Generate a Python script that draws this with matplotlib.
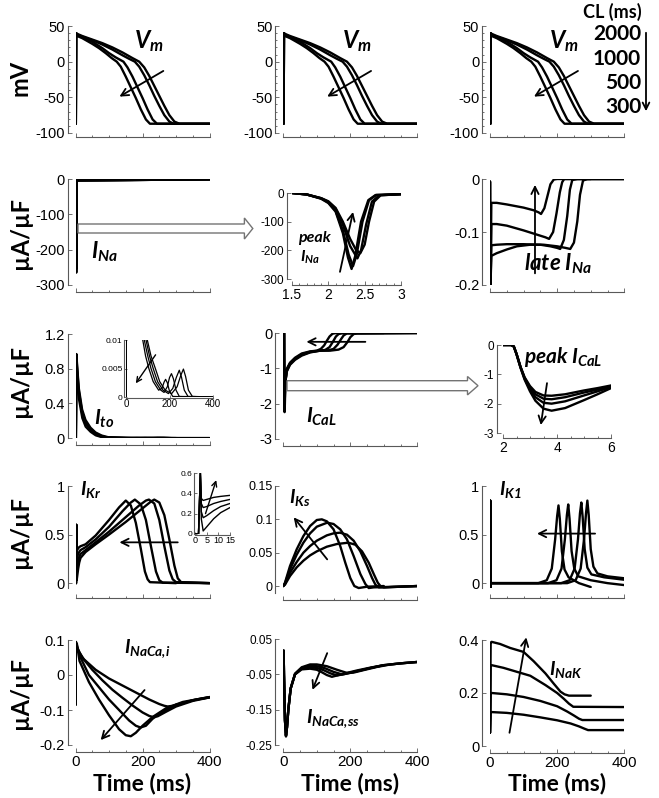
import matplotlib
matplotlib.use("Agg")
import matplotlib.pyplot as plt
from matplotlib import font_manager as fm
from matplotlib.patches import Polygon, FancyArrowPatch
from matplotlib.ticker import MultipleLocator

# ======================= DATA =======================
cycle_lengths = [2000, 1000, 500, 300]

# --- membrane potential (mV) ---
vm_t_2000 = [0, 1, 2, 5, 20, 50, 80, 110, 140, 170, 190, 205, 220, 235, 250, 265, 280, 295, 310, 400]
vm_v_2000 = [-87, -87, 40, 39, 36, 31, 26, 20, 13, 5, 0, -8, -20, -34, -48, -62, -75, -84, -87, -87]
vm_t_1000 = [0, 1, 2, 5, 20, 50, 80, 110, 140, 160, 177, 190, 205, 220, 235, 250, 265, 280, 292, 400]
vm_v_1000 = [-87, -87, 40, 38, 35, 30, 24, 17, 9, 4, 0, -7, -19, -33, -48, -62, -75, -84, -87, -87]
vm_t_500 = [0, 1, 2, 5, 20, 50, 80, 100, 120, 143, 155, 170, 185, 200, 215, 230, 243, 400]
vm_v_500 = [-87, -87, 40, 37, 34, 28, 19, 12, 6, 0, -8, -21, -36, -51, -67, -81, -87, -87]
vm_t_300 = [0, 1, 2, 5, 20, 50, 70, 90, 108, 123, 135, 150, 165, 180, 195, 210, 222, 300]
vm_v_300 = [-87, -87, 39, 36, 33, 25, 19, 12, 5, 0, -7, -21, -36, -51, -67, -81, -87, -87]

# --- fast sodium current INa ---
ina_t_2000 = [0, 1.5, 1.7, 1.9, 2.0, 2.1, 2.2, 2.27, 2.32, 2.37, 2.45, 2.55, 2.65, 3.0, 400]
ina_v_2000 = [0, 0, -5, -20, -35, -65, -140, -225, -265, -220, -100, -25, -7, -4, -1]
ina_t_1000 = [0, 1.5, 1.7, 1.9, 2.0, 2.1, 2.2, 2.28, 2.34, 2.39, 2.47, 2.56, 2.66, 3.0, 400]
ina_v_1000 = [0, 0, -5, -19, -33, -62, -130, -215, -255, -215, -100, -25, -7, -4, -1]
ina_t_500 = [0, 1.5, 1.7, 1.9, 2.0, 2.1, 2.2, 2.3, 2.4, 2.45, 2.52, 2.6, 2.7, 3.0, 400]
ina_v_500 = [0, 0, -5, -18, -30, -55, -110, -185, -228, -200, -110, -30, -8, -4, -1]
ina_t_300 = [0, 1.5, 1.7, 1.9, 2.0, 2.1, 2.2, 2.3, 2.38, 2.44, 2.5, 2.56, 2.63, 2.72, 3.0, 400]
ina_v_300 = [0, 0, -5, -18, -29, -52, -100, -160, -198, -210, -180, -100, -30, -8, -4, -1]

# --- late sodium current ---
inal_t_2000 = [0, 0.5, 1.5, 4, 20, 50, 80, 120, 160, 200, 225, 239, 250, 260, 268, 277, 290, 400]
inal_v_2000 = [-0.005, -0.25, -0.2, -0.145, -0.14, -0.133, -0.127, -0.124, -0.124, -0.127, -0.13, -0.132, -0.12, -0.08, -0.03, -0.003, 0, 0]
inal_t_1000 = [0, 0.5, 1.5, 4, 20, 50, 100, 150, 180, 200, 209, 220, 230, 238, 245, 260, 400]
inal_v_1000 = [-0.005, -0.25, -0.2, -0.125, -0.124, -0.123, -0.123, -0.124, -0.127, -0.13, -0.132, -0.115, -0.07, -0.02, -0.002, 0, 0]
inal_t_500 = [0, 0.5, 1.5, 4, 20, 50, 100, 140, 165, 176, 188, 198, 208, 215, 221, 235, 400]
inal_v_500 = [-0.005, -0.25, -0.2, -0.085, -0.085, -0.088, -0.097, -0.105, -0.11, -0.113, -0.1, -0.065, -0.025, -0.006, 0, 0, 0]
inal_t_300 = [0, 0.5, 1.5, 4, 20, 50, 100, 130, 145, 152, 162, 172, 180, 190, 200, 300]
inal_v_300 = [-0.005, -0.25, -0.2, -0.045, -0.045, -0.048, -0.054, -0.059, -0.063, -0.066, -0.055, -0.03, -0.01, -0.001, 0, 0]

# --- transient outward current Ito ---
ito_t_2000 = [0, 1.5, 3, 5, 10, 20, 30, 45, 60, 78, 98, 115, 135, 155, 180, 210, 235, 252, 264, 274, 287, 305, 400]
ito_v_2000 = [0, 0, 0.97, 0.85, 0.58, 0.33, 0.21, 0.12, 0.065, 0.03, 0.01, 0.0072, 0.005, 0.0027, 0.0012, 0.0006, 0.0018, 0.0038, 0.0049, 0.0036, 0.0012, 0.0001, 0]
ito_t_1000 = [0, 1.5, 3, 5, 10, 20, 30, 45, 60, 72, 92, 108, 125, 145, 170, 195, 215, 232, 245, 255, 268, 285, 400]
ito_v_1000 = [0, 0, 0.95, 0.82, 0.55, 0.3, 0.19, 0.105, 0.055, 0.03, 0.01, 0.0072, 0.005, 0.0027, 0.0012, 0.0006, 0.0015, 0.0035, 0.0047, 0.0035, 0.0012, 0.0001, 0]
ito_t_500 = [0, 1.5, 3, 5, 10, 20, 30, 45, 55, 65, 84, 100, 115, 135, 160, 175, 190, 200, 209, 218, 230, 245, 400]
ito_v_500 = [0, 0, 0.92, 0.78, 0.5, 0.27, 0.16, 0.09, 0.055, 0.03, 0.01, 0.0072, 0.005, 0.0027, 0.0012, 0.0008, 0.0018, 0.0034, 0.0041, 0.0032, 0.0012, 0.0001, 0]
ito_t_300 = [0, 1.5, 3, 5, 10, 20, 30, 45, 60, 77, 90, 105, 125, 150, 165, 175, 182, 190, 200, 215, 300]
ito_v_300 = [0, 0, 0.88, 0.72, 0.45, 0.23, 0.13, 0.07, 0.03, 0.01, 0.0072, 0.005, 0.0027, 0.0012, 0.0015, 0.0026, 0.0031, 0.0025, 0.001, 0.0001, 0]

# --- L-type calcium current ICaL ---
ical_t_2000 = [0, 2, 2.3, 2.4, 2.5, 2.65, 2.8, 3.0, 3.2, 3.5, 3.8, 4.3, 5.0, 5.5, 6.0, 10, 20, 35, 55, 80, 110, 140, 165, 180, 192, 200, 210, 220, 400]
ical_v_2000 = [0, 0, 0, -0.05, -0.3, -0.75, -1.1, -1.4, -1.6, -1.72, -1.73, -1.68, -1.55, -1.47, -1.38, -1.1, -0.9, -0.76, -0.64, -0.55, -0.5, -0.5, -0.47, -0.4, -0.25, -0.12, -0.03, -0.01, 0]
ical_t_1000 = [0, 2, 2.3, 2.4, 2.5, 2.65, 2.8, 3.0, 3.2, 3.5, 3.8, 4.3, 5.0, 5.5, 6.0, 10, 20, 35, 55, 80, 110, 135, 150, 162, 172, 180, 190, 400]
ical_v_1000 = [0, 0, 0, -0.05, -0.3, -0.75, -1.12, -1.45, -1.68, -1.83, -1.85, -1.78, -1.62, -1.52, -1.4, -1.08, -0.88, -0.74, -0.62, -0.54, -0.5, -0.49, -0.45, -0.33, -0.18, -0.07, -0.01, 0]
ical_t_500 = [0, 2, 2.3, 2.4, 2.5, 2.65, 2.8, 3.0, 3.2, 3.5, 3.8, 4.3, 5.0, 5.5, 6.0, 10, 20, 35, 55, 80, 105, 125, 138, 148, 157, 165, 175, 400]
ical_v_500 = [0, 0, 0, -0.05, -0.3, -0.76, -1.15, -1.5, -1.78, -1.97, -2.0, -1.92, -1.72, -1.58, -1.43, -1.05, -0.86, -0.72, -0.6, -0.53, -0.5, -0.48, -0.4, -0.25, -0.1, -0.03, -0.005, 0]
ical_t_300 = [0, 2, 2.3, 2.4, 2.5, 2.65, 2.8, 3.0, 3.2, 3.5, 3.8, 4.3, 5.0, 5.5, 6.0, 10, 20, 35, 55, 80, 100, 112, 122, 130, 138, 147, 155, 300]
ical_v_300 = [0, 0, 0, -0.05, -0.32, -0.78, -1.18, -1.58, -1.9, -2.17, -2.24, -2.15, -1.88, -1.68, -1.47, -1.02, -0.84, -0.7, -0.58, -0.52, -0.5, -0.45, -0.35, -0.22, -0.1, -0.02, -0.005, 0]

# --- rapid delayed rectifier IKr ---
ikr_t_2000 = [0, 1.5, 2.3, 2.7, 3.5, 5, 8, 11, 15, 30, 60, 100, 150, 200, 225, 235, 250, 265, 280, 295, 305, 315, 400]
ikr_v_2000 = [0, 0, 0.6, 0.15, 0.03, 0.07, 0.15, 0.21, 0.26, 0.32, 0.4, 0.5, 0.63, 0.77, 0.84, 0.86, 0.83, 0.7, 0.45, 0.18, 0.05, 0.01, 0]
ikr_t_1000 = [0, 1.5, 2.3, 2.7, 3.5, 5, 8, 11, 15, 30, 60, 100, 150, 190, 210, 219, 235, 250, 265, 280, 290, 300, 400]
ikr_v_1000 = [0, 0, 0.6, 0.22, 0.16, 0.18, 0.23, 0.27, 0.3, 0.34, 0.42, 0.53, 0.68, 0.8, 0.85, 0.86, 0.82, 0.65, 0.38, 0.13, 0.04, 0.01, 0]
ikr_t_500 = [0, 1.5, 2.3, 2.7, 3.5, 5, 8, 11, 15, 30, 60, 100, 140, 165, 177, 195, 210, 225, 240, 250, 260, 400]
ikr_v_500 = [0, 0, 0.6, 0.3, 0.26, 0.27, 0.3, 0.32, 0.34, 0.37, 0.45, 0.58, 0.74, 0.83, 0.86, 0.81, 0.65, 0.38, 0.12, 0.03, 0.005, 0]
ikr_t_300 = [0, 1.5, 2.3, 2.7, 3.5, 5, 8, 11, 15, 30, 60, 100, 130, 150, 165, 180, 195, 207, 215, 222, 300]
ikr_v_300 = [0, 0, 0.6, 0.35, 0.33, 0.34, 0.36, 0.37, 0.38, 0.4, 0.49, 0.65, 0.78, 0.85, 0.8, 0.62, 0.35, 0.12, 0.04, 0.01, 0]

# --- slow delayed rectifier IKs ---
iks_t_2000 = [0, 5, 20, 40, 60, 80, 100, 130, 160, 194, 215, 235, 255, 270, 282, 290, 300, 400]
iks_v_2000 = [0, 0.002, 0.015, 0.028, 0.038, 0.046, 0.052, 0.059, 0.063, 0.065, 0.062, 0.052, 0.035, 0.018, 0.005, 0, -0.002, 0]
iks_t_1000 = [0, 5, 20, 40, 60, 80, 100, 130, 150, 169, 190, 210, 230, 250, 265, 275, 285, 300, 400]
iks_v_1000 = [0, 0.003, 0.02, 0.036, 0.05, 0.06, 0.068, 0.076, 0.079, 0.08, 0.077, 0.068, 0.052, 0.03, 0.012, 0.002, -0.002, -0.002, 0]
iks_t_500 = [0, 5, 20, 40, 60, 80, 100, 131, 150, 170, 190, 210, 230, 245, 255, 270, 400]
iks_v_500 = [0, 0.004, 0.025, 0.047, 0.065, 0.079, 0.089, 0.095, 0.093, 0.085, 0.07, 0.045, 0.018, 0.003, -0.003, -0.002, 0]
iks_t_300 = [0, 5, 20, 40, 60, 80, 100, 115, 130, 150, 170, 185, 200, 212, 225, 250, 300]
iks_v_300 = [0, 0.005, 0.03, 0.055, 0.075, 0.09, 0.099, 0.1, 0.097, 0.085, 0.06, 0.035, 0.012, 0.0, -0.003, -0.001, 0]

# --- inward rectifier IK1 ---
ik1_t_2000 = [0, 0.5, 1, 2, 5, 230, 255, 270, 280, 286, 290, 294, 300, 308, 320, 350, 400]
ik1_v_2000 = [0, 0.85, -0.05, 0, 0, 0, 0.03, 0.15, 0.45, 0.72, 0.85, 0.7, 0.35, 0.17, 0.1, 0.07, 0.05]
ik1_t_1000 = [0, 0.5, 1, 2, 5, 212, 237, 252, 262, 268, 272, 276, 282, 290, 302, 340, 400]
ik1_v_1000 = [0, 0.85, -0.05, 0, 0, 0, 0.03, 0.15, 0.45, 0.72, 0.83, 0.68, 0.35, 0.16, 0.09, 0.06, 0.035]
ik1_t_500 = [0, 0.5, 1, 2, 5, 173, 198, 213, 223, 229, 233, 237, 243, 251, 263, 300, 350, 400]
ik1_v_500 = [0, 0.85, -0.05, 0, 0, 0, 0.03, 0.15, 0.45, 0.7, 0.81, 0.66, 0.33, 0.15, 0.07, 0.03, 0.0, -0.02]
ik1_t_300 = [0, 0.5, 1, 2, 5, 144, 169, 184, 194, 200, 204, 208, 214, 222, 234, 265, 300]
ik1_v_300 = [0, 0.85, -0.05, 0, 0, 0, 0.03, 0.15, 0.45, 0.69, 0.8, 0.66, 0.33, 0.14, 0.06, 0.0, -0.04]

# --- Na/Ca exchanger (myoplasm) ---
ncxi_t_2000 = [0, 1, 4, 25, 60, 100, 140, 180, 220, 250, 265, 275, 290, 320, 360, 400]
ncxi_v_2000 = [-0.085, 0.08, 0.075, 0.045, 0.015, -0.01, -0.03, -0.05, -0.07, -0.083, -0.088, -0.09, -0.088, -0.08, -0.07, -0.063]
ncxi_t_1000 = [0, 1, 4, 20, 50, 80, 110, 140, 170, 200, 220, 231, 245, 270, 300, 350, 400]
ncxi_v_1000 = [-0.085, 0.085, 0.08, 0.05, 0.015, -0.015, -0.042, -0.065, -0.087, -0.107, -0.117, -0.12, -0.118, -0.105, -0.09, -0.074, -0.064]
ncxi_t_500 = [0, 1, 4, 15, 40, 70, 100, 130, 160, 180, 194, 210, 230, 260, 300, 350, 400]
ncxi_v_500 = [-0.085, 0.09, 0.085, 0.05, 0.0, -0.035, -0.07, -0.1, -0.13, -0.145, -0.15, -0.145, -0.125, -0.105, -0.085, -0.072, -0.064]
ncxi_t_300 = [0, 1, 4, 12, 40, 70, 100, 130, 150, 165, 180, 200, 230, 270, 320, 400]
ncxi_v_300 = [-0.085, 0.095, 0.09, 0.04, -0.02, -0.07, -0.115, -0.155, -0.172, -0.175, -0.165, -0.145, -0.12, -0.095, -0.077, -0.063]

# --- Na/Ca exchanger (subspace) ---
ncxs_t_2000 = [0, 1, 2, 5, 8, 11, 15, 22, 35, 55, 80, 100, 130, 160, 190, 210, 240, 280, 320, 360, 400]
ncxs_v_2000 = [-0.015, 0.017, -0.05, -0.18, -0.222, -0.2, -0.15, -0.09, -0.048, -0.03, -0.022, -0.022, -0.027, -0.037, -0.046, -0.045, -0.038, -0.029, -0.022, -0.018, -0.015]
ncxs_t_1000 = [0, 1, 2, 5, 8, 11, 15, 22, 35, 55, 80, 100, 125, 150, 175, 195, 220, 260, 300, 350, 400]
ncxs_v_1000 = [-0.015, 0.017, -0.05, -0.18, -0.223, -0.2, -0.15, -0.09, -0.049, -0.032, -0.026, -0.027, -0.033, -0.043, -0.05, -0.047, -0.041, -0.032, -0.024, -0.019, -0.015]
ncxs_t_500 = [0, 1, 2, 5, 8, 11, 15, 22, 35, 55, 80, 100, 120, 140, 160, 180, 200, 230, 260, 300, 350, 400]
ncxs_v_500 = [-0.015, 0.017, -0.05, -0.18, -0.224, -0.2, -0.15, -0.09, -0.05, -0.034, -0.03, -0.032, -0.038, -0.047, -0.053, -0.05, -0.045, -0.039, -0.032, -0.024, -0.019, -0.015]
ncxs_t_300 = [0, 1, 2, 5, 8, 11, 15, 22, 35, 55, 80, 100, 115, 130, 145, 165, 190, 220, 260, 300]
ncxs_v_300 = [-0.015, 0.017, -0.05, -0.18, -0.226, -0.2, -0.15, -0.09, -0.05, -0.036, -0.034, -0.037, -0.044, -0.052, -0.057, -0.052, -0.046, -0.039, -0.031, -0.024]

# --- Na/K pump ---
inak_t_2000 = [0, 2, 5, 50, 100, 150, 200, 240, 265, 280, 292, 400]
inak_v_2000 = [0.05, 0.128, 0.128, 0.125, 0.118, 0.108, 0.097, 0.085, 0.074, 0.066, 0.06, 0.06]
inak_t_1000 = [0, 2, 5, 50, 100, 150, 200, 230, 250, 265, 275, 400]
inak_v_1000 = [0.05, 0.2, 0.2, 0.195, 0.185, 0.17, 0.15, 0.13, 0.115, 0.103, 0.098, 0.098]
inak_t_500 = [0, 2, 5, 40, 80, 120, 165, 200, 220, 235, 248, 400]
inak_v_500 = [0.05, 0.305, 0.305, 0.295, 0.28, 0.265, 0.23, 0.2, 0.178, 0.16, 0.148, 0.147]
inak_t_300 = [0, 2, 5, 30, 60, 100, 130, 165, 190, 210, 222, 235, 300]
inak_v_300 = [0.05, 0.39, 0.393, 0.385, 0.37, 0.355, 0.32, 0.274, 0.235, 0.205, 0.195, 0.19, 0.19]

# tick values / labels
time_ticks = [0, 200, 400]
time_ticklabels = ["0", "200", "400"]

# ======================= STYLE / LAYOUT =======================
W, H = 659, 798


def _wnum(w):
    if isinstance(w, (int, float)):
        return int(w)
    s = str(w)
    return int(s) if s.isdigit() else fm.weight_dict.get(s, 400)


_faces = [(f.name, f.style, _wnum(f.weight)) for f in fm.fontManager.ttflist]


def pick_family(cands, style):
    for c in cands:
        for n, s, w in _faces:
            if n == c and s == style and w >= 600:
                return c
    return "DejaVu Sans"


LAB_FAM = pick_family(["Lato", "Open Sans", "Noto Sans", "Roboto"], "normal")
IT_FAM = pick_family(["Lato", "Open Sans", "Noto Sans", "Roboto"], "italic")
TICK_FAM = ["Liberation Sans", "DejaVu Sans"]

plt.rcParams["font.family"] = TICK_FAM
plt.rcParams["mathtext.fontset"] = "custom"
plt.rcParams["mathtext.it"] = IT_FAM + ":italic:bold"
plt.rcParams["mathtext.rm"] = IT_FAM + ":italic:bold"
plt.rcParams["mathtext.bf"] = IT_FAM + ":italic:bold"

fig = plt.figure(figsize=(W / 100, H / 100), dpi=100)

SPINE_C = "0.35"
COLX = [(75.5, 209.6), (283.3, 417.3), (490.0, 624.3)]
TFS = 10.5   # main tick label size


def make_ax(x0, x1, y0, y1, xlim, ylim, lout=8, bout=7, fs=TFS):
    ax = fig.add_axes([x0 / W, 1 - y1 / H, (x1 - x0) / W, (y1 - y0) / H])
    ax.set_xlim(xlim)
    ax.set_ylim(ylim)
    ax.patch.set_alpha(0)
    for s in ("top", "right"):
        ax.spines[s].set_visible(False)
    ax.spines["left"].set_position(("outward", lout * 0.72))
    ax.spines["bottom"].set_position(("outward", bout * 0.72))
    for s in ("left", "bottom"):
        ax.spines[s].set_color(SPINE_C)
        ax.spines[s].set_linewidth(0.8)
    ax.tick_params(which="both", direction="in", color=SPINE_C, width=0.6,
                   labelsize=fs, pad=2)
    ax.tick_params(which="major", length=3)
    ax.tick_params(which="minor", length=1.6)
    return ax


def time_axis(ax, labels=False, fs=11):
    ax.set_xticks(time_ticks)
    ax.set_xticklabels(time_ticklabels if labels else [], fontsize=fs)
    ax.xaxis.set_minor_locator(MultipleLocator(50))


def plot_set(ax, series, lw=1.7):
    for t, v in series:
        ax.plot(t, v, color="black", lw=lw, solid_joinstyle="round",
                solid_capstyle="round")


def arrow(ax, tail, head, lw=1.3, ms=13):
    ax.annotate("", xy=head, xytext=tail,
                arrowprops=dict(arrowstyle="->", lw=lw, color="black",
                                mutation_scale=ms, shrinkA=0, shrinkB=0),
                annotation_clip=False)


def ftext(x, y, s, **kw):
    fig.text(x / W, 1 - y / H, s, **kw)


def lab(x, y, s, fs, ha="left"):
    ftext(x, y, s, fontsize=fs, ha=ha, va="baseline", family=IT_FAM,
          style="italic", weight="bold")


def hollow_arrow(x0, xb, xt, yc, hs, hh):
    pts = [(x0, yc - hs), (xb, yc - hs), (xb, yc - hh), (xt, yc),
           (xb, yc + hh), (xb, yc + hs), (x0, yc + hs)]
    poly = Polygon([(x / W, 1 - y / H) for x, y in pts], closed=True,
                   transform=fig.transFigure, facecolor="white",
                   edgecolor="0.45", lw=1.0, zorder=10)
    fig.add_artist(poly)


vm_sets = [(vm_t_2000, vm_v_2000), (vm_t_1000, vm_v_1000), (vm_t_500, vm_v_500), (vm_t_300, vm_v_300)]
ina_sets = [(ina_t_2000, ina_v_2000), (ina_t_1000, ina_v_1000), (ina_t_500, ina_v_500), (ina_t_300, ina_v_300)]
inal_sets = [(inal_t_2000, inal_v_2000), (inal_t_1000, inal_v_1000), (inal_t_500, inal_v_500), (inal_t_300, inal_v_300)]
ito_sets = [(ito_t_2000, ito_v_2000), (ito_t_1000, ito_v_1000), (ito_t_500, ito_v_500), (ito_t_300, ito_v_300)]
ical_sets = [(ical_t_2000, ical_v_2000), (ical_t_1000, ical_v_1000), (ical_t_500, ical_v_500), (ical_t_300, ical_v_300)]
ikr_sets = [(ikr_t_2000, ikr_v_2000), (ikr_t_1000, ikr_v_1000), (ikr_t_500, ikr_v_500), (ikr_t_300, ikr_v_300)]
iks_sets = [(iks_t_2000, iks_v_2000), (iks_t_1000, iks_v_1000), (iks_t_500, iks_v_500), (iks_t_300, iks_v_300)]
ik1_sets = [(ik1_t_2000, ik1_v_2000), (ik1_t_1000, ik1_v_1000), (ik1_t_500, ik1_v_500), (ik1_t_300, ik1_v_300)]
ncxi_sets = [(ncxi_t_2000, ncxi_v_2000), (ncxi_t_1000, ncxi_v_1000), (ncxi_t_500, ncxi_v_500), (ncxi_t_300, ncxi_v_300)]
ncxs_sets = [(ncxs_t_2000, ncxs_v_2000), (ncxs_t_1000, ncxs_v_1000), (ncxs_t_500, ncxs_v_500), (ncxs_t_300, ncxs_v_300)]
inak_sets = [(inak_t_2000, inak_v_2000), (inak_t_1000, inak_v_1000), (inak_t_500, inak_v_500), (inak_t_300, inak_v_300)]

# ---------------- Row 1 : Vm ----------------
for c, (x0, x1) in enumerate(COLX):
    ax = make_ax(x0, x1, 26, 133, (0, 400), (-100, 50), bout=4)
    plot_set(ax, vm_sets)
    ax.set_yticks([-100, -50, 0, 50])
    ax.set_yticklabels(["-100", "-50", "0", "50"])
    ax.yaxis.set_minor_locator(MultipleLocator(10))
    time_axis(ax)
    arrow(ax, (262, -13), (131, -49))
    lab(x0 + 59, 48, r"$V_m$", 17)

# ---------------- Row 2 ----------------
ax = make_ax(*COLX[0], 179, 285, (0, 400), (-300, 0))
plot_set(ax, ina_sets)
ax.set_yticks([-300, -200, -100, 0])
ax.set_yticklabels(["-300", "-200", "-100", "0"])
time_axis(ax)

ax = make_ax(292, 401, 193, 279, (1.5, 3), (-300, 0), lout=5, bout=6, fs=8.5)
plot_set(ax, ina_sets)
ax.set_yticks([-300, -200, -100, 0])
ax.set_yticklabels(["-300", "-200", "-100", "0"])
ax.set_xticks([1.5, 2, 2.5, 3])
ax.set_xticklabels(["1.5", "2", "2.5", "3"], fontsize=10)
ax.xaxis.set_minor_locator(MultipleLocator(0.1))
arrow(ax, (2.16, -275), (2.34, -66))

ax = make_ax(*COLX[2], 179, 285, (0, 400), (-0.2, 0))
plot_set(ax, inal_sets)
ax.set_yticks([-0.2, -0.1, 0])
ax.set_yticklabels(["-0.2", "-0.1", "0"])
time_axis(ax)
arrow(ax, (134, -0.178), (134, -0.011))

hollow_arrow(78, 244.4, 252.8, 228.5, 4.5, 10.5)

# ---------------- Row 3 ----------------
ax = make_ax(*COLX[0], 334, 438, (0, 400), (0, 1.2))
plot_set(ax, ito_sets, lw=1.5)
ax.set_yticks([0, 0.4, 0.8, 1.2])
ax.set_yticklabels(["0", "0.4", "0.8", "1.2"])
time_axis(ax)

axi = make_ax(126, 213, 340, 397, (0, 400), (0, 0.01), lout=2, bout=1, fs=6)
plot_set(axi, ito_sets, lw=0.9)
axi.set_yticks([0, 0.005, 0.01])
axi.set_yticklabels(["0", "0.005", "0.01"])
axi.set_xticks([0, 200, 400])
axi.set_xticklabels(["0", "200", "400"], fontsize=7)
axi.tick_params(length=2, pad=1)
arrow(axi, (136, 0.0074), (45, 0.0024), lw=1.0, ms=9)

ax = make_ax(*COLX[1], 333, 439, (0, 400), (-3, 0))
plot_set(ax, ical_sets)
ax.set_yticks([-3, -2, -1, 0])
ax.set_yticklabels(["-3", "-2", "-1", "0"])
time_axis(ax)
arrow(ax, (245, -0.25), (69, -0.25))

ax = make_ax(503, 611, 345, 433, (2, 6), (-3, 0), lout=6, bout=5, fs=8.5)
plot_set(ax, ical_sets)
ax.set_yticks([-3, -2, -1, 0])
ax.set_yticklabels(["-3", "-2", "-1", "0"])
ax.set_xticks([2, 4, 6])
ax.set_xticklabels(["2", "4", "6"], fontsize=10)
ax.xaxis.set_minor_locator(MultipleLocator(0.5))
arrow(ax, (3.63, -1.3), (3.4, -2.73))

hollow_arrow(287, 467.5, 478, 385.7, 5, 9.2)

# ---------------- Row 4 ----------------
ax = make_ax(*COLX[0], 486, 588, (0, 400), (-0.05, 1), bout=10)
plot_set(ax, ikr_sets)
ax.set_yticks([0, 0.5, 1])
ax.set_yticklabels(["0", "0.5", "1"])
time_axis(ax)
arrow(ax, (305, 0.42), (131, 0.42))

axi = make_ax(195, 230, 473, 534, (0, 15), (0, 0.6), lout=1, bout=1, fs=6)
plot_set(axi, ikr_sets, lw=1.0)
axi.set_yticks([0, 0.2, 0.4, 0.6])
axi.set_yticklabels(["0", "0.2", "0.4", "0.6"])
axi.set_xticks([0, 5, 10, 15])
axi.set_xticklabels(["0", "5", "10", "15"], fontsize=6.5)
axi.tick_params(length=2, pad=1)
arrow(axi, (4.5, 0.2), (9.1, 0.53), lw=1.0, ms=9)

ax = make_ax(*COLX[1], 486, 592.7, (0, 400), (-0.01, 0.15), fs=9)
plot_set(ax, iks_sets)
ax.set_yticks([0, 0.05, 0.1, 0.15])
ax.set_yticklabels(["0", "0.05", "0.1", "0.15"])
time_axis(ax)
arrow(ax, (131, 0.04), (31, 0.103))

ax = make_ax(*COLX[2], 486, 588, (0, 400), (-0.05, 1), bout=10)
plot_set(ax, ik1_sets)
ax.set_yticks([0, 0.5, 1])
ax.set_yticklabels(["0", "0.5", "1"])
time_axis(ax)
arrow(ax, (313, 0.51), (140, 0.51))

# ---------------- Row 5 ----------------
ax = make_ax(*COLX[0], 640, 745, (0, 400), (-0.2, 0.1))
plot_set(ax, ncxi_sets)
ax.set_yticks([-0.2, -0.1, 0, 0.1])
ax.set_yticklabels(["-0.2", "-0.1", "0", "0.1"])
time_axis(ax, labels=True)
arrow(ax, (206, -0.043), (75, -0.186))

ax = make_ax(*COLX[1], 639, 745, (0, 400), (-0.25, 0.05), fs=8.5)
plot_set(ax, ncxs_sets)
ax.set_yticks([-0.25, -0.15, -0.05, 0.05])
ax.set_yticklabels(["-0.25", "-0.15", "-0.05", "0.05"])
time_axis(ax, labels=True)
arrow(ax, (131, 0.01), (87, -0.094))

ax = make_ax(*COLX[2], 640, 746, (0, 400), (0, 0.4))
plot_set(ax, inak_sets)
ax.set_yticks([0, 0.2, 0.4])
ax.set_yticklabels(["0", "0.2", "0.4"])
time_axis(ax, labels=True)
arrow(ax, (58, 0.05), (108, 0.41))

# ---------------- labels ----------------
for (x0, x1) in COLX:
    ftext((x0 + x1) / 2, 790, "Time (ms)", fontsize=16.5, ha="center",
          va="baseline", family=LAB_FAM, weight="bold")

ftext(20, 78, "mV", fontsize=17, rotation=90, ha="center", va="center",
      family=LAB_FAM, weight="bold")
for yc in (233, 381, 532, 693):
    ftext(20, yc, "\u00b5A/\u00b5F", fontsize=17, rotation=90, ha="center",
          va="center", family=LAB_FAM, weight="bold")

# CL legend
ftext(612, 18, "CL (ms)", fontsize=13, ha="center", va="baseline",
      family=LAB_FAM, weight="bold")
for yb, s in zip((40, 65, 89, 113), ("2000", "1000", "500", "300")):
    ftext(641, yb, s, fontsize=15, ha="right", va="baseline",
          family=LAB_FAM, weight="bold")
fig.add_artist(FancyArrowPatch((646 / W, 1 - 30 / H), (646 / W, 1 - 114 / H),
                               transform=fig.transFigure, arrowstyle="->",
                               mutation_scale=12, lw=1.3, color="black"))

# panel current labels
lab(91, 258, r"$I_{Na}$", 16)
lab(298, 242, "peak", 11.5)
lab(300, 262, r"$I_{Na}$", 11.5)
lab(524, 270, r"late $I_{Na}$", 16)
lab(94, 425, r"$I_{to}$", 15)
lab(306, 423, r"$I_{CaL}$", 15)
lab(524, 363, r"peak $I_{CaL}$", 15)
lab(80, 495, r"$I_{Kr}$", 14)
lab(289, 503, r"$I_{Ks}$", 14)
lab(499, 495, r"$I_{K1}$", 14)
lab(124, 653, r"$I_{NaCa{,}i}$", 14)
lab(306, 723, r"$I_{NaCa{,}ss}$", 14)
lab(549, 675, r"$I_{NaK}$", 14)

fig.savefig("out.png", dpi=100)
